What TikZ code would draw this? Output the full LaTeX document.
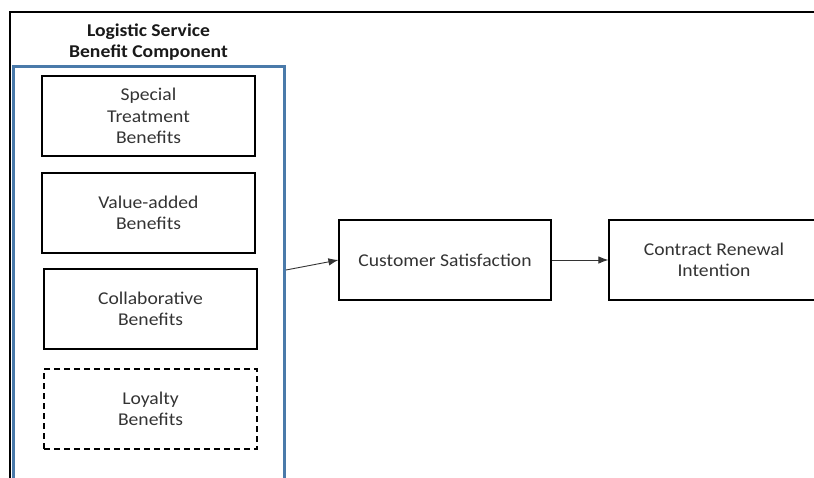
\documentclass[tikz,border=0pt]{standalone}
\usepackage{fontspec}
\setmainfont{Carlito}[FakeStretch = 1.09]
\usetikzlibrary{arrows.meta}

\tikzset{
	benefit/.style = {draw, line width = 1.2pt, minimum width = 213pt, minimum height = 80pt, align = center, font = \fontsize{18}{21.5}\selectfont, text = black!80},
	stage/.style = {draw, line width = 1.2pt, minimum width = 212pt, minimum height = 80pt, align = center, font = \fontsize{18}{21.5}\selectfont, text = black!80},
	flow/.style = {-{Latex[length = 10pt, width = 7.5pt]}, line width = 0.9pt, black!80}
}
\definecolor{frameblue}{RGB}{74,122,170}

\begin{document}
\begin{tikzpicture}[x = 1pt, y = -1pt]
	%	canvas
	\useasboundingbox (0, 0) rectangle (814, 477);
	\clip (0, 0) rectangle (814, 477);
	
	%	outer frame
	\draw[line width = 2pt] (10, 490) -- (10, 12) -- (820, 12);
	\node[font = \bfseries\fontsize{18}{21.5}\selectfont, align = center, text = black!90] (title) at (148.5, 42) {Logistic Service\\Benefit Component};
	
	%	component box
	\draw[frameblue, line width = 3pt] (13, 490) -- (13, 66) -- (284, 66) -- (284, 490);
	\node[benefit] (special) at (148.5, 116) {Special\\Treatment\\Benefits};
	\node[benefit] (value) at (148.5, 213) {Value-added\\Benefits};
	\node[benefit] (collab) at (150.5, 309) {Collaborative\\Benefits};
	\node[benefit, dash pattern = on 6pt off 4pt] (loyal) at (150.5, 409) {Loyalty\\Benefits};
	
	%	outcomes
	\node[stage] (satis) at (445, 260) {Customer Satisfaction};
	\node[stage, minimum width = 210pt] (renew) at (714, 260) {Contract Renewal\\Intention};
	
	%	arrows
	\coordinate (comp) at (286, 270);
	\draw[flow] (comp) -- (satis.west);
	\draw[flow] (satis.east) -- (renew.west);
\end{tikzpicture}
\end{document}
